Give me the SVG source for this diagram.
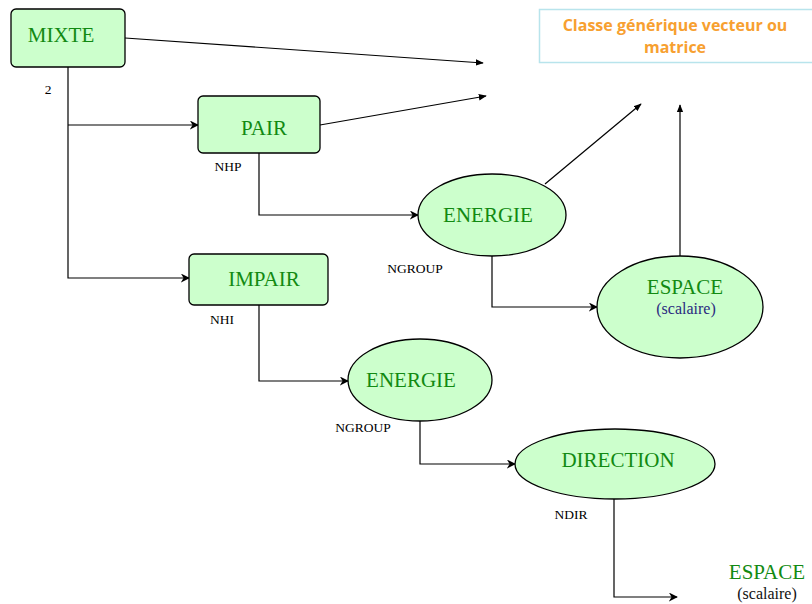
<svg xmlns="http://www.w3.org/2000/svg" width="812" height="604" viewBox="0 0 812 604">
<style>
.box{fill:#ccffcc;stroke:#000;stroke-width:1.3}
.lbl{font-family:"Liberation Serif",serif;font-size:21px;fill:#128a12;text-anchor:middle}
.sub{font-family:"Liberation Serif",serif;font-size:16px;fill:#2a2a80;text-anchor:middle}
.sm{font-family:"Liberation Serif",serif;font-size:13.5px;fill:#000;text-anchor:middle}
.ln{fill:none;stroke:#000;stroke-width:1.2}
.ttl{font-family:"Open Sans","DejaVu Sans",sans-serif;font-size:16px;font-weight:bold;fill:#f7a030;text-anchor:middle}
</style>
<defs>
<marker id="a" viewBox="0 0 10 10" refX="9" refY="5" markerWidth="9" markerHeight="9" markerUnits="userSpaceOnUse" orient="auto"><path d="M0,0 L10,5 L0,10 L3,5 z" fill="#000"/></marker>
<marker id="t" viewBox="0 0 10 10" refX="9" refY="5" markerWidth="8" markerHeight="8" markerUnits="userSpaceOnUse" orient="auto"><path d="M0,1 L10,5 L0,9 z" fill="#000"/></marker>
</defs>
<g id="classe">
<rect x="539.5" y="9.5" width="280" height="53" fill="#fff" stroke="#b8e4ec" stroke-width="1.5"/>
<text class="ttl" x="675" y="31">Classe générique vecteur ou</text>
<text class="ttl" x="675" y="53">matrice</text>
</g>
<g id="connectors">
<path class="ln" d="M125,38 L483,63" marker-end="url(#t)"/>
<path class="ln" d="M320,125 L486,96" marker-end="url(#t)"/>
<path class="ln" d="M545,184 L641,104" marker-end="url(#t)"/>
<path class="ln" d="M680,256 L680,105" marker-end="url(#t)"/>
<path class="ln" d="M68,67 L68,278 L189,278" marker-end="url(#a)"/>
<path class="ln" d="M68,125 L198,125" marker-end="url(#a)"/>
<path class="ln" d="M259,153 L259,215 L418,215" marker-end="url(#a)"/>
<path class="ln" d="M492,256 L492,307 L597,307" marker-end="url(#a)"/>
<path class="ln" d="M259,305 L259,381 L348,381" marker-end="url(#a)"/>
<path class="ln" d="M420,421 L420,464 L515,464" marker-end="url(#a)"/>
<path class="ln" d="M614,499 L614,597 L677,597" marker-end="url(#a)"/>
<text class="sm" x="48" y="94">2</text>
<text class="sm" x="228" y="171">NHP</text>
<text class="sm" x="415" y="273">NGROUP</text>
<text class="sm" x="222" y="324">NHI</text>
<text class="sm" x="363" y="432">NGROUP</text>
<text class="sm" x="571" y="519">NDIR</text>
</g>
<g id="mixte">
<rect class="box" x="11" y="9" width="114" height="58" rx="5"/>
<text class="lbl" x="61" y="42">MIXTE</text>
</g>
<g id="pair">
<rect class="box" x="198" y="96" width="122" height="57" rx="5"/>
<text class="lbl" x="264" y="135">PAIR</text>
</g>
<g id="impair">
<rect class="box" x="189" y="254" width="139" height="51" rx="5"/>
<text class="lbl" x="264" y="286">IMPAIR</text>
</g>
<g id="energie1">
<ellipse class="box" cx="492" cy="215" rx="74" ry="41"/>
<text class="lbl" x="488" y="222">ENERGIE</text>
</g>
<g id="espace1">
<ellipse class="box" cx="680" cy="307" rx="83" ry="51"/>
<text class="lbl" x="685" y="294">ESPACE</text>
<text class="sub" x="686" y="314">(scalaire)</text>
</g>
<g id="energie2">
<ellipse class="box" cx="420" cy="380" rx="72" ry="41"/>
<text class="lbl" x="411" y="387">ENERGIE</text>
</g>
<g id="direction">
<ellipse class="box" cx="615" cy="464" rx="100" ry="35"/>
<text class="lbl" x="618" y="467">DIRECTION</text>
</g>
<g id="espace2">
<text class="lbl" x="767" y="579">ESPACE</text>
<text class="sub" x="767" y="599" style="fill:#111">(scalaire)</text>
</g>
</svg>
